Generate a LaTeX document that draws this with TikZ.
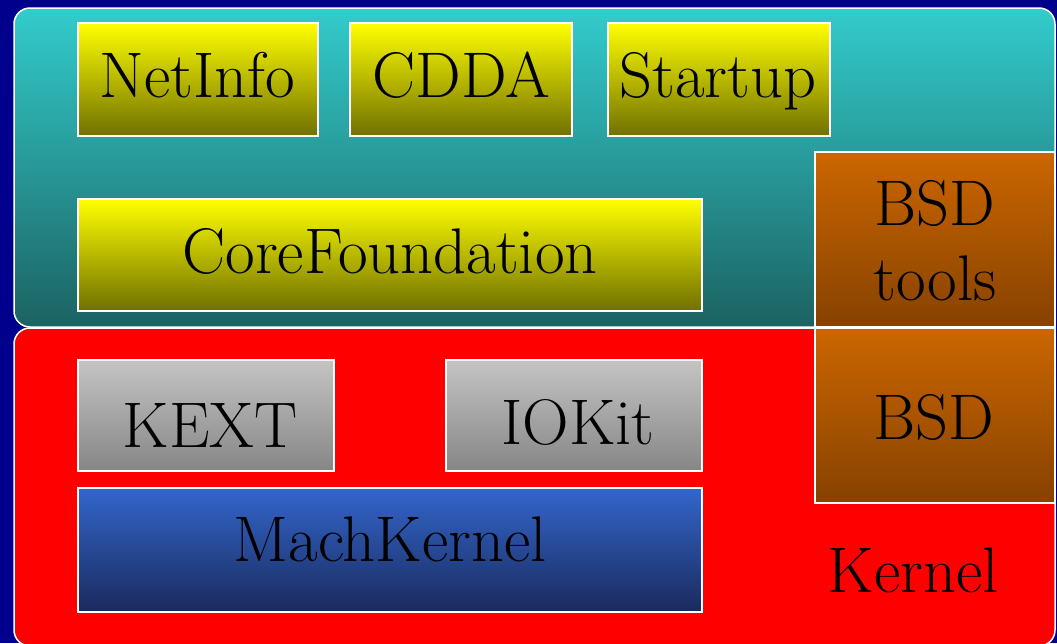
\documentclass[tikz,border=0pt]{standalone}
\definecolor{navybg}{RGB}{0,0,140}
\definecolor{cyanT}{HTML}{33CCCC}
\definecolor{cyanB}{HTML}{1C6262}
\definecolor{yelT}{HTML}{FFFF00}
\definecolor{yelB}{HTML}{707000}
\definecolor{orT}{HTML}{CC6600}
\definecolor{orB}{HTML}{864200}
\definecolor{grT}{HTML}{C4C4C4}
\definecolor{grB}{HTML}{868686}
\definecolor{blT}{HTML}{3366CC}
\definecolor{blB}{HTML}{1A2A5C}
\definecolor{kred}{HTML}{FF0000}
\tikzset{
  panel/.style={draw=white, line width=1.5pt, rounded corners=16pt},
  box/.style={draw=white, line width=1.3pt},
  yelbox/.style={box, top color=yelT, bottom color=yelB},
  orbox/.style={box, top color=orT, bottom color=orB},
  grbox/.style={box, top color=grT, bottom color=grB},
  blbox/.style={box, top color=blT, bottom color=blB},
  lbl/.style={inner sep=0pt, text=black, font=\rmfamily\fontsize{64.5}{75}\selectfont}
}
\begin{document}
\begin{tikzpicture}[x=1pt,y=-1pt]
\useasboundingbox (0,0) rectangle (1057,643);
\fill[navybg] (0,0) rectangle (1057,643);
% panels
\path[panel, top color=cyanT, bottom color=cyanB] (14,8) rectangle (1055,327);
\path[panel, fill=kred] (14,328) rectangle (1055,646);
% boxes
\path[yelbox] (78,23) rectangle (318,136);
\path[yelbox] (350,23) rectangle (572,136);
\path[yelbox] (608,23) rectangle (830,136);
\path[yelbox] (78,199) rectangle (702,311);
\path[orbox] (815,152) rectangle (1055,327);
\path[orbox] (815,328) rectangle (1055,503);
\path[grbox] (78,360) rectangle (334,471);
\path[grbox] (446,360) rectangle (702,471);
\path[blbox] (78,488) rectangle (702,612);
% labels
\node[lbl, anchor=base] (netinfo) at (197,97) {NetInfo};
\node[lbl, anchor=base] (cdda) at (461,97) {CDDA};
\node[lbl, anchor=base] (startup) at (718,97) {Startup};
\node[lbl, anchor=base] (corefound) at (390,273) {CoreFoundation};
\node[lbl, align=center] (bsdtools) at (935,241) {BSD\\tools};
\node[lbl, anchor=base] (bsd) at (934,439) {BSD};
\node[lbl, anchor=base] (kext) at (210,447) {KEXT};
\node[lbl, anchor=base] (iokit) at (578,444) {IOKit};
\node[lbl, anchor=base] (mach) at (390,561) {MachKernel};
\node[lbl, anchor=base] (kernel) at (913,592) {Kernel};
\end{tikzpicture}
\end{document}
